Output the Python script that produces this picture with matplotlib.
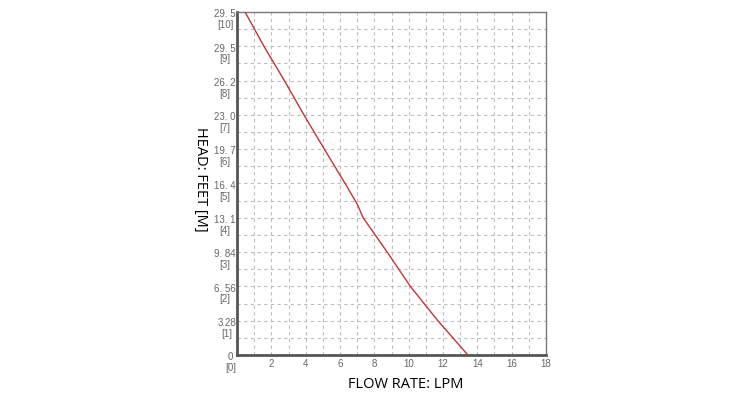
import matplotlib
matplotlib.use("Agg")
import matplotlib.pyplot as plt
import matplotlib.transforms as mtransforms

# pump curve: head in [M] units vs flow in LPM
head_m = [10, 9, 8, 7, 6, 5, 4.4, 4, 3, 2, 1, 0]
flow_lpm = [0.47, 1.57, 2.76, 3.9, 5.09, 6.3, 7.0, 7.35, 8.75, 10.1, 11.7, 13.45]

# y tick labels (feet over metres), as printed on the original
head_ticks = [0, 1, 2, 3, 4, 5, 6, 7, 8, 9, 10]
head_labels = ["0\n[0]", "3.28\n[1]", "6. 56\n[2]", "9. 84\n[3]", "13. 1\n[4]",
               "16. 4\n[5]", "19. 7\n[6]", "23. 0\n[7]", "26. 2\n[8]",
               "29. 5\n[9]", "29. 5\n[10]"]
flow_ticks = [2, 4, 6, 8, 10, 12, 14, 16, 18]

fig = plt.figure(figsize=(7.5, 4), dpi=100)
fig.patch.set_facecolor("white")
ax = fig.add_axes([0.316, 0.1125, 0.412, 0.8575])

ax.set_xlim(0, 18)
ax.set_ylim(0, 10)

# dashed grid: every LPM on x, every half unit on y
for gx in range(1, 18):
    ax.axvline(gx, color="#bdbdbd", lw=0.8, ls=(0, (3, 3)), zorder=1)
for i in range(1, 20):
    ax.axhline(i * 0.5, color="#bdbdbd", lw=0.8, ls=(0, (3, 3)), zorder=1)

ax.plot(flow_lpm, head_m, color="#c8323a", lw=1.0, zorder=3)

ax.set_xticks(flow_ticks)
ax.set_xticklabels([str(t) for t in flow_ticks], fontsize=7, color="#666666",
                   family="Liberation Sans")
ax.set_yticks([])
ax.tick_params(axis="x", length=0, pad=3)

trans = ax.get_yaxis_transform()
offset = mtransforms.ScaledTranslation(-1 / 100, 2 / 72, fig.dpi_scale_trans)
for t, lab in zip(head_ticks, head_labels):
    ax.text(0, t, lab, transform=trans + offset, ha="right", va="top",
            multialignment="center", fontsize=7, color="#666666",
            family="Liberation Sans", linespacing=1.1)

for side in ["left", "bottom"]:
    ax.spines[side].set_color("#555555")
    ax.spines[side].set_linewidth(2)
for side in ["top", "right"]:
    ax.spines[side].set_color("#777777")
    ax.spines[side].set_linewidth(1)

ax.set_xlabel("FLOW RATE: LPM", fontsize=10.5, family="Open Sans")
ax.xaxis.set_label_coords(0.547, -0.065)
fig.text(0.268, 0.5525, "HEAD: FEET [M]", rotation=-90, ha="center", va="center",
         fontsize=10.5, family="Open Sans")

fig.savefig("out.png", dpi=100)
